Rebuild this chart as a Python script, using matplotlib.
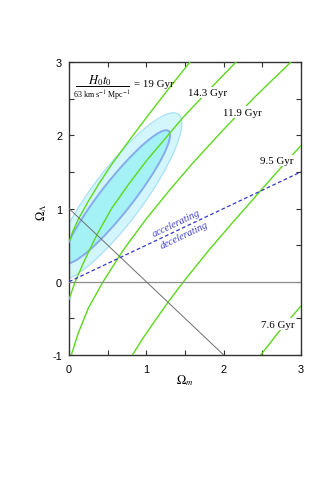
import matplotlib
matplotlib.use('Agg')
import matplotlib.pyplot as plt
from matplotlib.patches import Ellipse
from matplotlib.ticker import MultipleLocator, FuncFormatter

plt.rcParams['mathtext.fontset'] = 'stix'
plt.rcParams['axes.unicode_minus'] = False

# age contours (Omega_m, Omega_Lambda)
om_19 = [0, 0.05, 0.128, 0.25, 0.4, 0.55, 0.8, 1.05, 1.3, 1.565]
ol_19 = [0.54, 0.69, 0.87, 1.10, 1.36, 1.60, 1.96, 2.31, 2.65, 3.0]

om_143 = [0, 0.08, 0.2, 0.36, 0.55, 0.77, 1.0, 1.24, 1.48, 1.82, 2.16]
ol_143 = [-0.24, 0.0, 0.29, 0.64, 1.0, 1.33, 1.65, 1.95, 2.25, 2.63, 3.0]

om_119 = [0.03, 0.12, 0.25, 0.44, 0.7, 1.0, 1.3, 1.6, 2.0, 2.4, 2.87]
ol_119 = [-1.0, -0.7, -0.36, 0.0, 0.43, 0.86, 1.25, 1.62, 2.08, 2.52, 3.0]

om_95 = [0.82, 0.95, 1.1, 1.28, 1.48, 1.8, 2.1, 2.4, 2.7, 3.0]
ol_95 = [-1.0, -0.78, -0.55, -0.28, 0.0, 0.42, 0.79, 1.15, 1.51, 1.86]

om_76 = [2.48, 2.7, 3.0]
ol_76 = [-1.0, -0.7, -0.33]

# flat universe and acceleration boundary
flat_om = [0, 2]
flat_ol = [1, -1]
acc_om = [0, 3]
acc_ol = [0, 1.5]

# confidence regions: centre (Om, OL), full length, full width, tilt in degrees
outer_c, outer_len, outer_wid, outer_ang = (0.62, 1.16), 2.76, 0.68, 55
inner_c, inner_len, inner_wid, inner_ang = (0.62, 1.16), 2.24, 0.42, 53.5

green = '#5cd91c'

fig = plt.figure(figsize=(3.19, 5.02), dpi=100)
ax = fig.add_axes([0.2163, 0.2908, 0.7273, 0.5837])

ax.add_patch(Ellipse(outer_c, outer_len, outer_wid, angle=outer_ang,
                     facecolor='#d2f6fb', edgecolor='#a3def6', lw=0.8, zorder=1))
ax.add_patch(Ellipse(inner_c, inner_len, inner_wid, angle=inner_ang,
                     facecolor='#a4f1f6', edgecolor='#86acee', lw=1.4, zorder=2))

for xs, ys in [(om_19, ol_19), (om_143, ol_143), (om_119, ol_119),
               (om_95, ol_95), (om_76, ol_76)]:
    ax.plot(xs, ys, color=green, lw=1.0, zorder=3)

ax.axhline(0, color='#8c8c8c', lw=0.9, zorder=3)
ax.plot(flat_om, flat_ol, color='#6e6e6e', lw=0.7, zorder=4)
ax.plot(acc_om, acc_ol, color='#3535cc', lw=0.9, dashes=(3, 2), zorder=4)

ax.text(1.385, 0.80, 'accelerating', rotation=25.5, color='#4040c8', fontsize=7.5,
        family='Liberation Serif', style='italic', ha='center', va='center')
ax.text(1.49, 0.645, 'decelerating', rotation=25.5, color='#4040c8', fontsize=7.5,
        family='Liberation Serif', style='italic', ha='center', va='center')

box = dict(facecolor='white', edgecolor='none', pad=1.0)
lab = dict(fontsize=7.8, family='Liberation Serif', ha='center', va='center', zorder=5)
ax.text(1.79, 2.584, '14.3 Gyr', bbox=box, **lab)
ax.text(2.245, 2.317, '11.9 Gyr', bbox=box, **lab)
ax.text(2.684, 1.655, '9.5 Gyr', bbox=box, **lab)
ax.text(2.704, -0.577, '7.6 Gyr', bbox=box, **lab)

# H0 t0 / 63 km/s/Mpc = 19 Gyr
ax.text(0.134, 0.941, r'$H_0t_0$', transform=ax.transAxes, fontsize=9,
        ha='center', va='center')
ax.plot([0.029, 0.259], [0.917, 0.917], transform=ax.transAxes, color='black', lw=0.7)
ax.text(0.142, 0.889, r'63 km s$^{-1}$ Mpc$^{-1}$', transform=ax.transAxes,
        fontsize=5.8, family='Liberation Serif', ha='center', va='center')
ax.text(0.28, 0.9266, '= 19 Gyr', transform=ax.transAxes, fontsize=7.8,
        family='Liberation Serif', ha='left', va='center')

ax.set_xlim(0, 3)
ax.set_ylim(-1, 3)
ax.xaxis.set_major_locator(MultipleLocator(1))
ax.xaxis.set_minor_locator(MultipleLocator(0.5))
ax.yaxis.set_major_locator(MultipleLocator(1))
ax.yaxis.set_minor_locator(MultipleLocator(0.5))
ax.xaxis.set_major_formatter(FuncFormatter(lambda v, p: '%d' % round(v)))
ax.yaxis.set_major_formatter(FuncFormatter(lambda v, p: '%d' % round(v)))
ax.tick_params(which='both', direction='in', top=True, right=True, length=3.5,
               width=0.8, color='#333333')
ax.tick_params(axis='x', pad=6.5)
ax.tick_params(axis='y', pad=5)
for t in ax.get_xticklabels() + ax.get_yticklabels():
    t.set_family('Liberation Sans')
    t.set_fontsize(7.8)
for s in ax.spines.values():
    s.set_linewidth(1.0)
    s.set_color('#333333')

ax.set_xlabel(r'$\Omega_m$', fontsize=9)
ax.set_ylabel(r'$\Omega_\Lambda$', fontsize=9)
ax.xaxis.set_label_coords(0.5, -0.058)
ax.yaxis.set_label_coords(-0.085, 0.49)

fig.savefig('out.png', dpi=100)
